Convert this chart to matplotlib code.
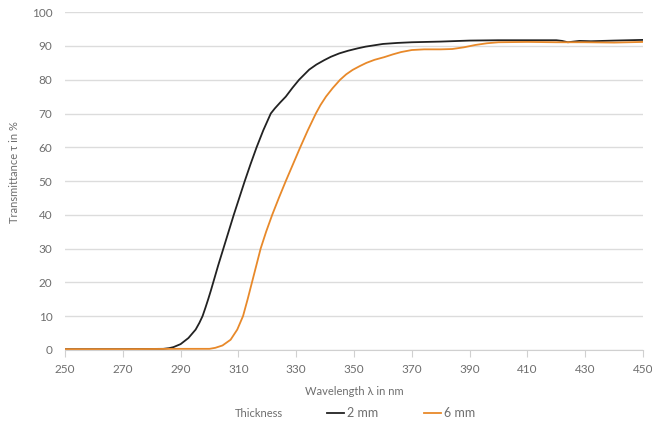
import matplotlib.pyplot as plt

# Transmittance curves
wl_2mm = [250, 270, 284, 286, 287.5, 290, 292.7, 295.2, 296.5, 297.6, 298.6, 299.55, 300.45, 301.3,
          303.0, 304.8, 306.6, 308.4, 310.3, 312.2, 314.2, 316.3, 318.6, 321.2, 322.6, 324.5,
          326.4, 328.7, 331, 334.5, 337, 339.7, 342, 344.9, 348, 351.3, 354, 357, 360, 365,
          370, 380, 390, 400, 410, 420, 422, 424, 426, 428, 432, 440, 450]
tr_2mm = [0.2, 0.2, 0.3, 0.5, 0.8, 1.7, 3.5, 6, 8, 10, 12.5, 15, 17.5, 20,
          25, 30, 35, 40, 45, 50, 55, 60, 65, 70, 71.5, 73.3,
          75, 77.6, 80, 83, 84.5, 85.8, 86.8, 87.8, 88.6, 89.3, 89.8, 90.2, 90.6, 90.9,
          91.1, 91.3, 91.6, 91.7, 91.7, 91.7, 91.5, 91.1, 91.3, 91.5, 91.4, 91.6, 91.8]

wl_6mm = [250, 270, 290, 300, 302, 304.5, 307.3, 309.6, 311.6, 313.2, 314.7, 316.2, 317.7,
          319.6, 321.7, 324.0, 326.4, 328.9, 331.4, 334.0, 336.8, 338.4, 340.3, 342.6, 345.2,
          347.3, 349.5, 351.9, 354.3, 357.1, 360.5, 363.4, 366.3, 370, 374.3, 380, 384, 388,
          392, 396, 400, 410, 420, 430, 440, 450]
tr_6mm = [0.2, 0.2, 0.3, 0.3, 0.6, 1.3, 3, 6, 10, 15, 20, 25, 30,
          35, 40, 45, 50, 55, 60, 65, 70, 72.5, 75, 77.5, 80,
          81.6, 82.9, 84, 85, 85.9, 86.7, 87.5, 88.2, 88.8, 89, 89, 89.1, 89.6,
          90.3, 90.8, 91.1, 91.2, 91.1, 91.1, 91.0, 91.2]

x_ticks = list(range(250, 451, 20))
y_ticks = list(range(0, 101, 10))

plt.rcParams['font.family'] = ['Lato', 'DejaVu Sans']
grey = '#6e6e6e'

fig = plt.figure(figsize=(6.52, 4.21), dpi=100)
ax = fig.add_axes([0.0997, 0.169, 0.8865, 0.802])

ax.plot(wl_2mm, tr_2mm, color='#222222', lw=1.3, label='2 mm')
ax.plot(wl_6mm, tr_6mm, color='#e8892a', lw=1.3, label='6 mm')

ax.set_xlim(250, 450)
ax.set_ylim(0, 100)
ax.set_xticks(x_ticks)
ax.set_yticks(y_ticks)
ax.grid(axis='y', color='#dcdcdc', lw=1)
ax.set_axisbelow(True)
for s in ['top', 'right', 'left']:
    ax.spines[s].set_visible(False)
ax.spines['bottom'].set_color('#d0d0d0')
ax.tick_params(axis='y', length=0, pad=9, labelsize=8.5, labelcolor=grey)
ax.tick_params(axis='x', length=5, color='#d0d0d0', pad=5, labelsize=8.5, labelcolor=grey)

ax.set_xlabel('Wavelength λ in nm', fontsize=8, color=grey)
ax.xaxis.set_label_coords(0.5, -0.108)
ax.set_ylabel('Transmittance τ in %', fontsize=8, color=grey)
ax.yaxis.set_label_coords(-0.078, 0.527)

fig.text(0.360, 0.019, 'Thickness', fontsize=8, color=grey, va='center')
fig.legend(loc='center left', bbox_to_anchor=(0.501, 0.019), ncol=2, frameon=False,
           fontsize=9, labelcolor=grey, handlelength=1.4, handletextpad=0.25,
           columnspacing=3.6, borderaxespad=0, borderpad=0)

fig.savefig('out.png', dpi=100)
